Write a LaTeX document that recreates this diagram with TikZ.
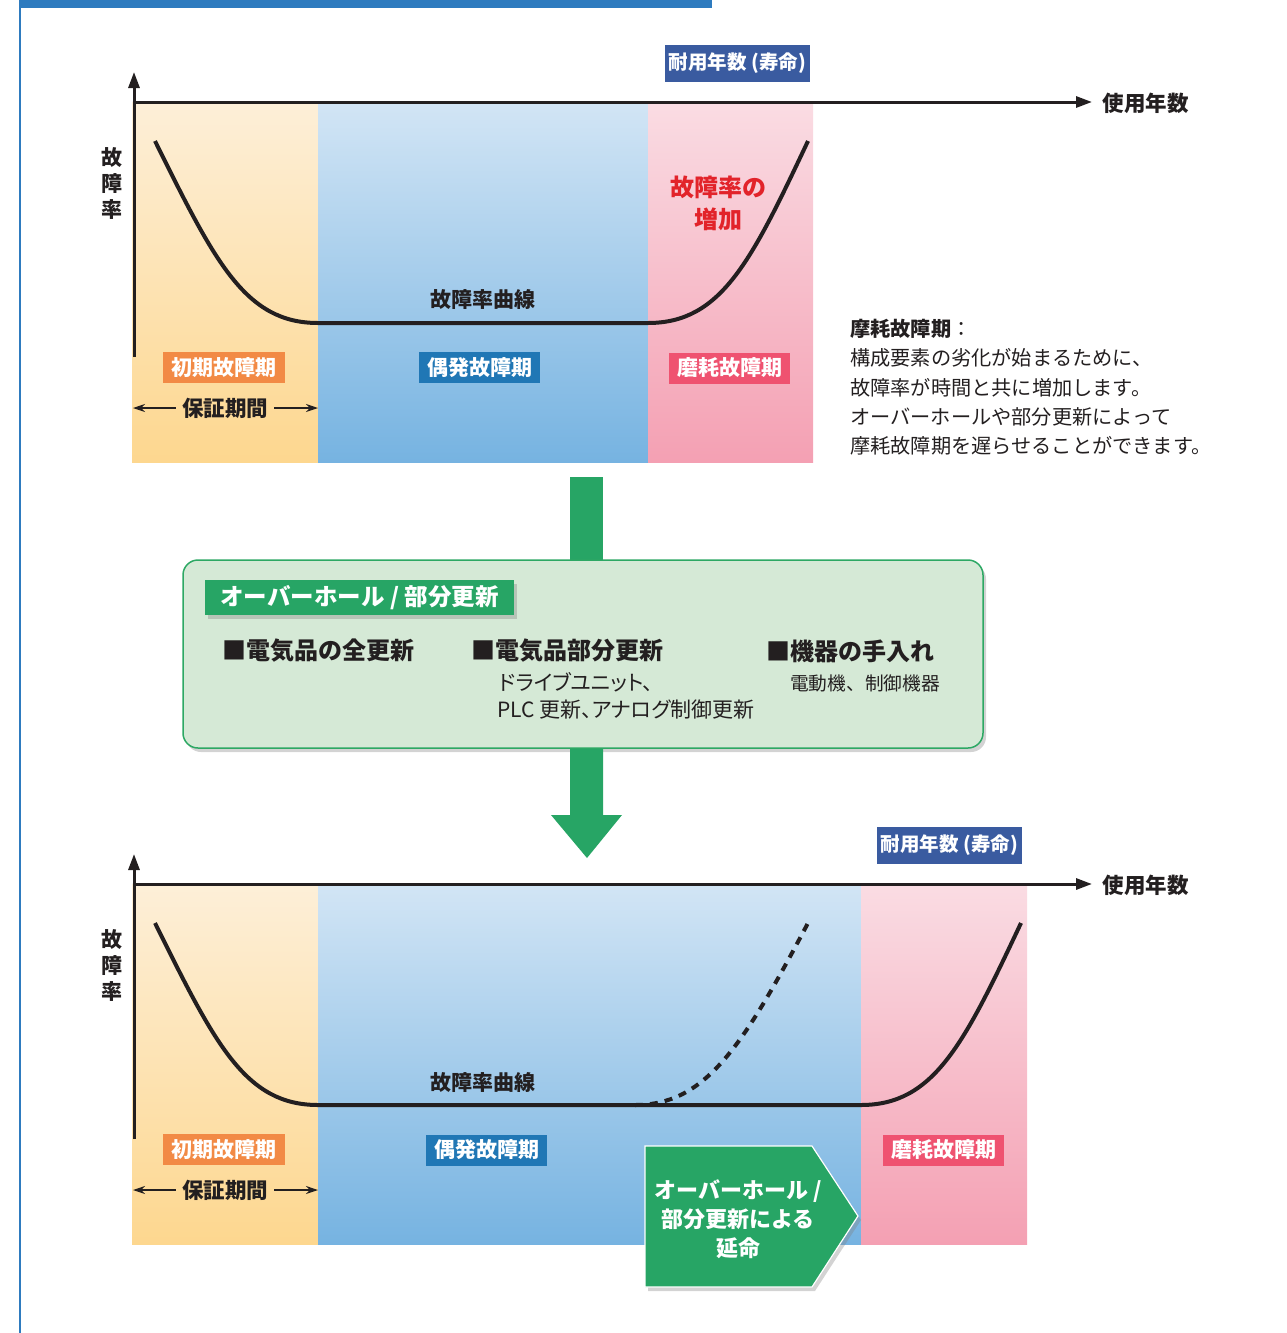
\documentclass[tikz,border=0pt]{standalone}
\usepackage{fontspec}
\setmainfont{Noto Sans CJK JP}
\usetikzlibrary{arrows.meta,shadows}
\definecolor{barblue}{HTML}{2E7BBF}
\definecolor{lifeblue}{HTML}{3A5BA0}
\definecolor{orT}{HTML}{FDEFD8}
\definecolor{orB}{HTML}{FDD78F}
\definecolor{blT}{HTML}{D2E5F5}
\definecolor{blB}{HTML}{76B3E1}
\definecolor{pkT}{HTML}{FADCE3}
\definecolor{pkB}{HTML}{F4A0B3}
\definecolor{tagor}{HTML}{F28A45}
\definecolor{tagbl}{HTML}{2077B5}
\definecolor{tagpk}{HTML}{EF5270}
\definecolor{redtxt}{HTML}{E2232A}
\definecolor{ink}{HTML}{231F20}
\definecolor{garrow}{HTML}{27A565}
\definecolor{gbox}{HTML}{D5E9D6}
\definecolor{gborder}{HTML}{2DA864}
\tikzset{
  axisline/.style={draw=ink, line width=3, -{Triangle[length=16,width=11]}},
  curveline/.style={draw=ink, line width=4},
  dashcurve/.style={draw=ink, line width=4, dash pattern=on 8 off 7},
  tagbox/.style={inner sep=0pt, minimum height=31, text=white, font=\bfseries\fontsize{21}{24}\selectfont},
  lifebox/.style={fill=lifeblue, inner sep=0pt, minimum width=145, minimum height=37, text=white, font=\bfseries\fontsize{19.5}{22}\selectfont},
  axlabel/.style={text=ink, font=\bfseries\fontsize{21.5}{24}\selectfont},
  ylabel/.style={text=ink, align=center, font=\bfseries\fontsize{21}{26}\selectfont},
  hosho/.style={text=ink, inner sep=6, font=\bfseries\fontsize{21.5}{24}\selectfont},
  harrow/.style={draw=ink, line width=1.2, -{Stealth[length=12,width=8]}},
  itemtxt/.style={anchor=west, text=ink, inner sep=0pt, font=\bfseries\fontsize{24}{27}\selectfont},
  shadowed/.style={drop shadow={opacity=0.35, shadow xshift=3pt, shadow yshift=-4pt}},
}
\begin{document}
\begin{tikzpicture}[x=1pt,y=-1pt]
\useasboundingbox (0,0) rectangle (1287,1333);
% frame
\fill[barblue] (20,0) rectangle (712,8);
\draw[barblue, line width=1.5] (20,0) -- (20,1333);

% ================= TOP CHART =================
\shade[top color=orT, bottom color=orB] (132,102) rectangle (318,462);
\shade[top color=blT, bottom color=blB] (318,102) rectangle (648,462);
\shade[top color=pkT, bottom color=pkB] (648,102) rectangle (813,462);

\coordinate (o1) at (134,357);
\coordinate (yt1) at (134,72);
\coordinate (xs1) at (132.5,102);
\coordinate (xt1) at (1092,102);
\draw[axisline] (o1) -- (yt1);
\draw[axisline] (xs1) -- (xt1);
\node[axlabel, anchor=west] (use1) at (1099,103) {使用年数};
\node[lifebox] (life1) at (737.5,63.5) {耐用年数 (寿命)};
\node[ylabel] (yl1) at (112,183) {故\\障\\率};

\draw[curveline] (155,141) .. controls (215,262) and (245,323) .. (318,323) -- (648,323) .. controls (721,323) and (751,262) .. (808,141);
\node[axlabel, font=\bfseries\fontsize{21}{24}\selectfont] (cur1) at (483,300) {故障率曲線};
\node[text=redtxt, align=center, font=\bfseries\fontsize{24}{32}\selectfont] (inc1) at (718,203) {故障率の\\増加};

\node[tagbox, fill=tagor, minimum width=122] (init1) at (224,367.5) {初期故障期};
\node[tagbox, fill=tagbl, minimum width=121] (rand1) at (479.5,367.5) {偶発故障期};
\node[tagbox, fill=tagpk, minimum width=121] (wear1) at (729.5,368) {磨耗故障期};

\node[hosho] (hs1) at (225,408) {保証期間};
\coordinate (hl1) at (133,408);
\coordinate (hr1) at (318,408);
\draw[harrow] (hs1.west) -- (hl1);
\draw[harrow] (hs1.east) -- (hr1);

\node[anchor=north west, align=left, text=ink, inner sep=0pt, font=\fontsize{20.2}{29.3}\selectfont] (desc) at (850,319)
{\textbf{摩耗故障期}：\\構成要素の劣化が始まるために、\\故障率が時間と共に増加します。\\オーバーホールや部分更新によって\\摩耗故障期を遅らせることができます。};

% ================= MIDDLE =================
\fill[garrow] (570,477) rectangle (603,562);
\node[draw=gborder, line width=1.5, fill=gbox, rounded corners=15, minimum width=800, minimum height=188, inner sep=0pt, shadowed] (ovbox) at (583,654) {};
\fill[garrow] (570,749) -- (603,749) -- (603,815) -- (622,815) -- (587,858) -- (551,815) -- (570,815) -- cycle;

\node[fill=garrow, inner sep=0pt, minimum width=309, minimum height=35, text=white, font=\bfseries\fontsize{23.5}{26}\selectfont, shadowed] (ovtag) at (359.5,597.5) {オーバーホール / 部分更新};
\node[itemtxt] (it1) at (222,651) {■電気品の全更新};
\node[itemtxt] (it2) at (471,651) {■電気品部分更新};
\node[itemtxt] (it3) at (766,651) {■機器の手入れ};
\node[anchor=north west, align=left, text=ink, inner sep=0pt, font=\fontsize{21}{27}\selectfont\addfontfeatures{RawFeature=+palt}] (sub2) at (497,672) {\hspace{2pt}ドライブユニット、\\PLC 更新、アナログ制御更新};
\node[anchor=west, text=ink, inner sep=0pt, font=\fontsize{18.7}{22}\selectfont] (sub3) at (790,683) {電動機、制御機器};

% ================= BOTTOM CHART =================
\shade[top color=orT, bottom color=orB] (132,884) rectangle (318,1244);
\shade[top color=blT, bottom color=blB] (318,884) rectangle (861,1244);
\shade[top color=pkT, bottom color=pkB] (861,884) rectangle (1027,1244);

\coordinate (o2) at (134,1139);
\coordinate (yt2) at (134,854);
\coordinate (xs2) at (132.5,884);
\coordinate (xt2) at (1092,884);
\draw[axisline] (o2) -- (yt2);
\draw[axisline] (xs2) -- (xt2);
\node[axlabel, anchor=west] (use2) at (1099,885) {使用年数};
\node[lifebox] (life2) at (949.5,845) {耐用年数 (寿命)};
\node[ylabel] (yl2) at (112,965) {故\\障\\率};

\draw[dashcurve] (635,1105) .. controls (705,1105) and (742,1048) .. (808,923);
\draw[curveline] (155,923) .. controls (215,1044) and (245,1105) .. (318,1105) -- (861,1105) .. controls (934,1105) and (964,1044) .. (1021,923);
\node[axlabel, font=\bfseries\fontsize{21}{24}\selectfont] (cur2) at (483,1082) {故障率曲線};

\node[tagbox, fill=tagor, minimum width=122] (init2) at (224,1149.5) {初期故障期};
\node[tagbox, fill=tagbl, minimum width=121] (rand2) at (486.5,1150) {偶発故障期};
\node[tagbox, fill=tagpk, minimum width=121] (wear2) at (943.5,1150) {磨耗故障期};

\node[hosho] (hs2) at (225,1190) {保証期間};
\coordinate (hl2) at (133,1190);
\coordinate (hr2) at (318,1190);
\draw[harrow] (hs2.west) -- (hl2);
\draw[harrow] (hs2.east) -- (hr2);

\path[fill=garrow, draw=white, line width=1.2, shadowed] (645,1146) -- (812,1146) -- (858,1216) -- (812,1287) -- (645,1287) -- cycle;
\node[text=white, align=center, font=\bfseries\fontsize{22}{29}\selectfont] (ext) at (738,1219) {オーバーホール /\\部分更新による\\延命};
\end{tikzpicture}
\end{document}
